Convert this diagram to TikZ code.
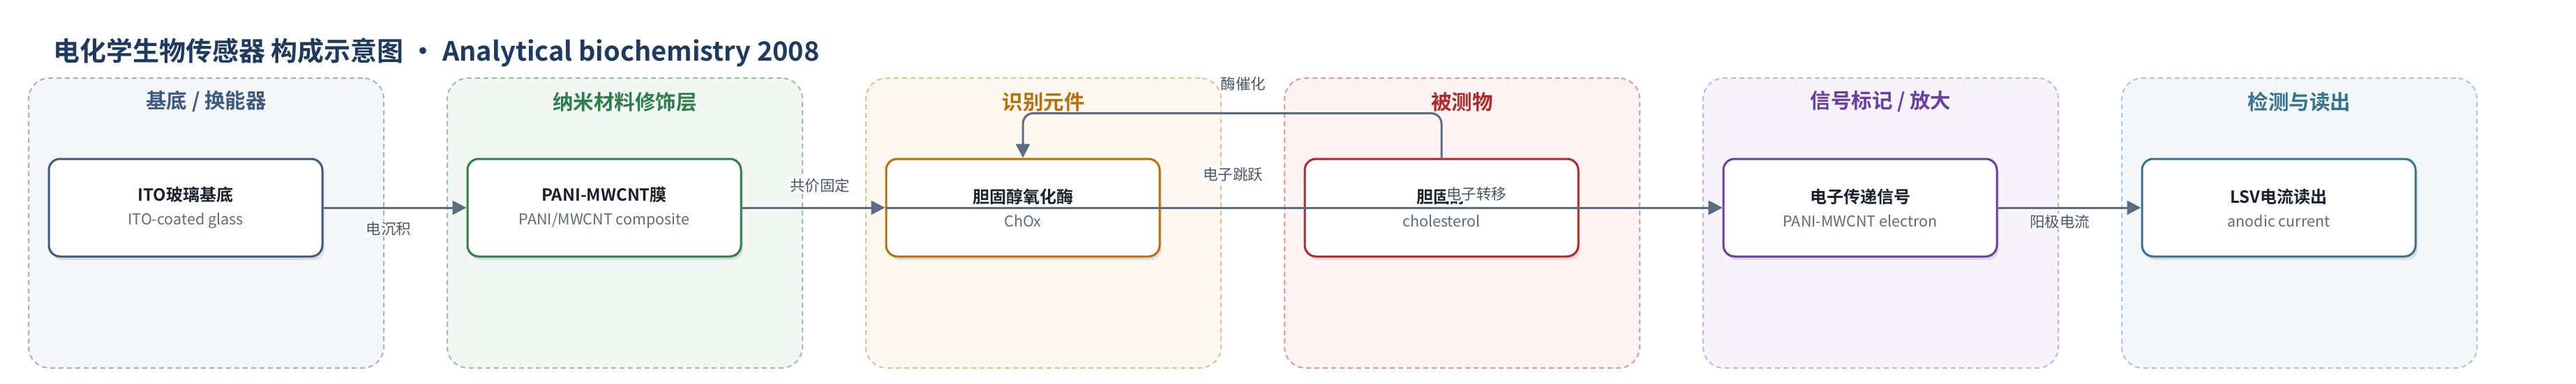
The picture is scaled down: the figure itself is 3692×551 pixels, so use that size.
\documentclass[tikz,border=0pt]{standalone}
\usepackage{fontspec}
\setmainfont{Noto Sans CJK SC}[BoldFont={Noto Sans CJK SC Bold}]
\usetikzlibrary{arrows.meta,shadows}
\definecolor{titlec}{HTML}{1E3A5F}
\definecolor{edgec}{HTML}{5B6B80}
\definecolor{labc}{HTML}{4A5568}
\definecolor{subc}{HTML}{5F6B7A}
\definecolor{ntc}{HTML}{1A202C}
\definecolor{gAb}{HTML}{A3B1C6}\definecolor{gAf}{HTML}{F4F6FA}\definecolor{gAt}{HTML}{3D5A80}
\definecolor{gBb}{HTML}{93C4A4}\definecolor{gBf}{HTML}{F1F8F3}\definecolor{gBt}{HTML}{2E7D4A}
\definecolor{gCb}{HTML}{E6C18A}\definecolor{gCf}{HTML}{FDF8EF}\definecolor{gCt}{HTML}{B8700A}
\definecolor{gDb}{HTML}{E09898}\definecolor{gDf}{HTML}{FDF3F2}\definecolor{gDt}{HTML}{B22828}
\definecolor{gEb}{HTML}{C8AEE3}\definecolor{gEf}{HTML}{F7F3FB}\definecolor{gEt}{HTML}{6A3FA0}
\definecolor{gFb}{HTML}{A8C6D4}\definecolor{gFf}{HTML}{F3F7F9}\definecolor{gFt}{HTML}{37728F}
\tikzset{
  grp/.style={draw=#1, line width=2pt, dash pattern=on 7pt off 5pt, rounded corners=30pt,
    minimum width=509pt, minimum height=416pt, inner sep=0pt},
  grptitle/.style={text=#1, font=\fontsize{29.5}{33}\selectfont\bfseries, inner sep=0pt},
  nbox/.style={draw=#1, line width=3pt, fill=white, rounded corners=16pt,
    minimum width=392pt, minimum height=140pt, align=center, inner sep=0pt,
    drop shadow={fill=black, opacity=0.10, shadow xshift=3pt, shadow yshift=-5pt},
    font=\fontsize{21}{34}\selectfont},
  edge/.style={draw=edgec, line width=3pt, -{Triangle[length=20pt,width=20pt]}},
  elabel/.style={fill=white, text=labc, inner sep=1pt, font=\fontsize{21.5}{25}\selectfont},
}
\newcommand{\ntitle}[1]{{\fontsize{24}{34}\selectfont\bfseries\color{ntc}#1}}
\newcommand{\nsub}[1]{{\fontsize{21.5}{34}\selectfont\color{subc}#1}}
\begin{document}
\begin{tikzpicture}[x=1pt,y=-1pt]
\useasboundingbox (0,0) rectangle (3692,551);
\fill[white] (0,0) rectangle (3692,551);
\node[anchor=west, text=titlec, font=\fontsize{38}{42}\selectfont\bfseries, inner sep=0pt] (title) at (76,75)
  {电化学生物传感器 构成示意图 · Analytical biochemistry 2008};
% groups
\node[grp=gAb, fill=gAf] (g1) at (295.5,320) {};
\node[grp=gBb, fill=gBf] (g2) at (895.5,320) {};
\node[grp=gCb, fill=gCf] (g3) at (1495.5,320) {};
\node[grp=gDb, fill=gDf] (g4) at (2095.5,320) {};
\node[grp=gEb, fill=gEf] (g5) at (2695.5,320) {};
\node[grp=gFb, fill=gFf] (g6) at (3295.5,320) {};
\node[grptitle=gAt] (t1) at (295.5,146) {基底 / 换能器};
\node[grptitle=gBt] (t2) at (895.5,146) {纳米材料修饰层};
\node[grptitle=gCt] (t3) at (1495.5,146) {识别元件};
\node[grptitle=gDt] (t4) at (2095.5,146) {被测物};
\node[grptitle=gEt] (t5) at (2695.5,146) {信号标记 / 放大};
\node[grptitle=gFt] (t6) at (3295.5,146) {检测与读出};
% nodes
\node[nbox=gAt] (n1) at (266,298) {\ntitle{ITO玻璃基底}\\\nsub{ITO-coated glass}};
\node[nbox=gBt] (n2) at (866,298) {\ntitle{PANI-MWCNT膜}\\\nsub{PANI/MWCNT composite}};
\node[nbox=gCt] (n3) at (1466,298) {\ntitle{胆固醇氧化酶}\\\nsub{ChOx}};
\node[nbox=gDt] (n4) at (2066,298) {\ntitle{胆固醇}\\\nsub{cholesterol}};
\node[nbox=gEt] (n5) at (2666,298) {\ntitle{电子传递信号}\\\nsub{PANI-MWCNT electron}};
\node[nbox=gFt] (n6) at (3266,298) {\ntitle{LSV电流读出}\\\nsub{anodic current}};
% edges
\draw[edge] (n1.east) -- (n2.west);
\draw[edge] (n2.east) -- (n3.west);
\draw[edge] (n3.west) -- (n5.west);
\draw[edge] (n4.west) -- (n5.west);
\draw[edge, rounded corners=15pt] (n4.north) -- ++(0,-64) -| (n3.north);
\draw[edge] (n5.east) -- (n6.west);
% labels
\node[elabel] (l1) at (557,328) {电沉积};
\node[elabel] (l2) at (1175,266) {共价固定};
\node[elabel] (l3) at (1782,120) {酶催化};
\node[elabel] (l4) at (1767,250) {电子跳跃};
\node[elabel] (l5) at (2116,278) {电子转移};
\node[elabel] (l6) at (2952,318) {阳极电流};
\end{tikzpicture}
\end{document}
